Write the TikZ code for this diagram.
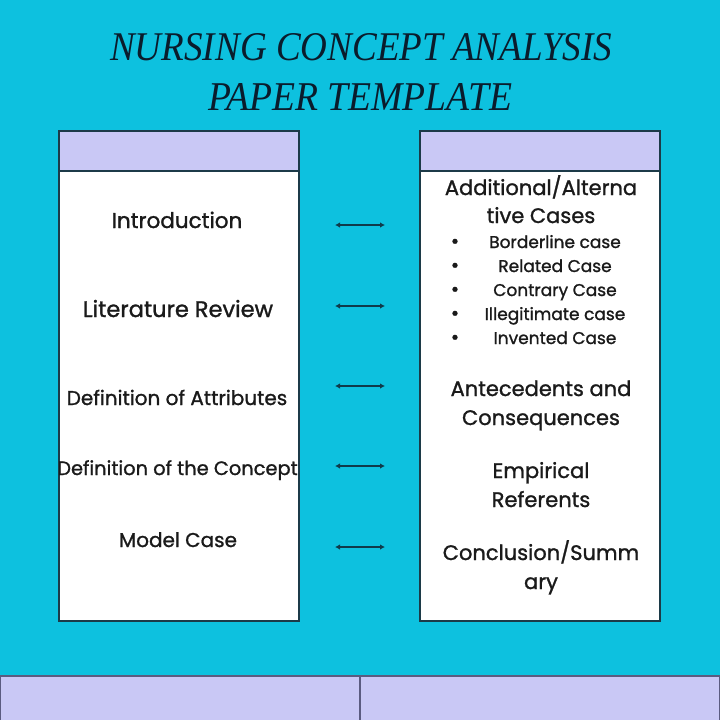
\documentclass[tikz,border=0pt]{standalone}
\usepackage{fontspec}
\setmainfont{Poppins}[FakeBold=1.2]
\newfontfamily\titlefont{Liberation Serif}
\usetikzlibrary{arrows.meta}
\definecolor{bg}{HTML}{0DC1DF}
\definecolor{lav}{HTML}{C9C8F5}
\definecolor{edge}{HTML}{1C3A48}
\definecolor{ink}{HTML}{1A1A1A}
\definecolor{titleink}{HTML}{0A1C2C}
\definecolor{arrowc}{HTML}{103A4A}
\definecolor{divc}{HTML}{5B5B80}
\newcommand{\fs}[1]{\fontsize{#1}{#1}\selectfont}
\begin{document}
\begin{tikzpicture}[x=1pt,y=-1pt,
  txt/.style={inner sep=0pt, anchor=base, text=ink, font=\fs{21}},
  small/.style={txt, font=\fs{17}},
  dot/.style={txt, font=\fs{20}},
  ttl/.style={inner sep=0pt, anchor=base west, text=titleink},
  panel/.style={draw=edge, line width=1.5pt, fill=white, inner sep=0pt, outer sep=0pt, anchor=north west, minimum width=240pt},
  head/.style={panel, fill=lav, minimum height=40pt},
  band/.style={draw=divc, line width=1.2pt, fill=lav, inner sep=0pt, outer sep=0pt, anchor=north west, minimum width=360pt, minimum height=46pt},
  arr/.style={draw=arrowc, line width=1.3pt, {Latex[length=5pt,width=5.5pt]}-{Latex[length=5pt,width=5.5pt]}},
]
\fill[bg] (0,0) rectangle (720,720);
\useasboundingbox (0,0) rectangle (720,720);
% title
\node[ttl] (t1) at (110,60) {\resizebox{502pt}{27pt}{\titlefont\itshape NURSING CONCEPT ANALYSIS}};
\node[ttl] (t2) at (208,110) {\resizebox{304pt}{27pt}{\titlefont\itshape PAPER TEMPLATE}};
% panels
\node[panel, minimum height=450pt] (lbody) at (59,171) {};
\node[head] (lhead) at (59,131) {};
\node[panel, minimum height=450pt] (rbody) at (420,171) {};
\node[head] (rhead) at (420,131) {};
% bottom band
\node[band] (bandl) at (0,676) {};
\node[band] (bandr) at (360,676) {};
% left texts
\node[txt, font=\fs{21.5}] (intro) at (177,228) {Introduction};
\node[txt, font=\fs{22.5}] (lit) at (178,317) {Literature Review};
\node[txt, font=\fs{20}] (attr) at (177,405) {Definition of Attributes};
\begin{scope}
\clip (lbody.north west) rectangle (lbody.south east);
\node[txt, font=\fs{19.4}] (conc) at (177.5,475) {Definition of the Concept};
\end{scope}
\node[txt, font=\fs{20}] (model) at (178,547) {Model Case};
% right texts
\node[txt] (r1a) at (541,195) {Additional/Alterna};
\node[txt] (r1b) at (541,223) {tive Cases};
\foreach \y/\t [count=\i] in {248/Borderline case,272/Related Case,296/Contrary Case,320/Illegitimate case,344/Invented Case}{
  \node[dot] (bul\i) at (455,\y) {•};
  \node[small] (item\i) at (555,\y) {\t};
}
\node[txt] (r2a) at (541,396) {Antecedents and};
\node[txt] (r2b) at (541,425) {Consequences};
\node[txt] (r3a) at (541,478) {Empirical};
\node[txt] (r3b) at (541,507) {Referents};
\node[txt] (r4a) at (541,560) {Conclusion/Summ};
\node[txt] (r4b) at (541,589) {ary};
% arrows
\foreach \y [count=\i] in {225,306,386,466,547}{
  \coordinate (as\i) at (335,\y);
  \coordinate (ae\i) at (385,\y);
  \draw[arr] (as\i) -- (ae\i);
}
\end{tikzpicture}
\end{document}
